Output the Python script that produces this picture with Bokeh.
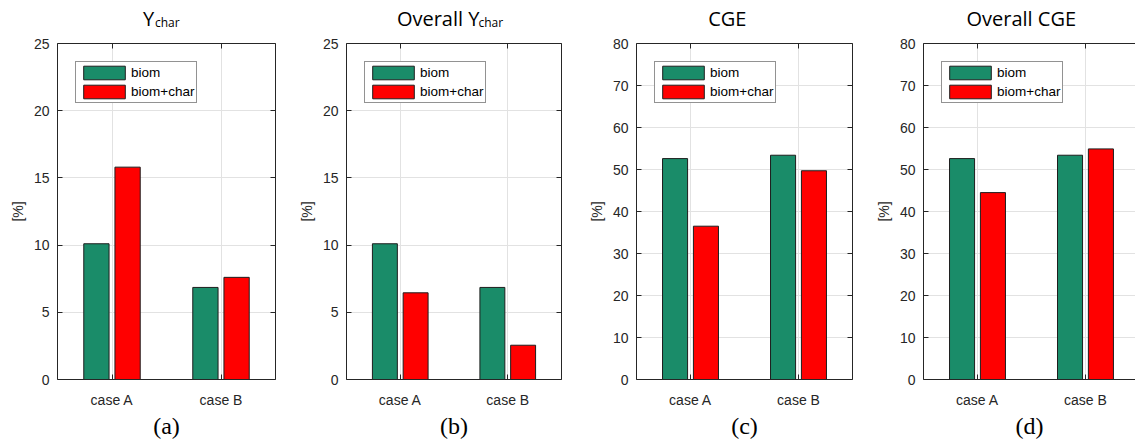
from bokeh.plotting import figure
from bokeh.models import (Range1d, FixedTicker, LinearAxis, Legend, LegendItem,
                          ColumnDataSource)
from bokeh.layouts import row, column
from bokeh.embed import file_html
from bokeh.resources import INLINE
from bokeh.transform import dodge
from bokeh.core.properties import value

# ---------------- data ----------------
categories = ["case A", "case B"]
series = ["biom", "biom+char"]

ychar_biom = [10.1, 6.85]
ychar_biomchar = [15.8, 7.6]

overall_ychar_biom = [10.1, 6.85]
overall_ychar_biomchar = [6.45, 2.55]

cge_biom = [52.6, 53.4]
cge_biomchar = [36.5, 49.7]

overall_cge_biom = [52.6, 53.4]
overall_cge_biomchar = [44.5, 54.9]

y_max = [25, 25, 80, 80]
y_step = [5, 5, 10, 10]
panel_letters = ["(a)", "(b)", "(c)", "(d)"]

# ---------------- style ----------------
AX = "#262626"
GRID = "#e2e2e2"
GREEN = "#1a8c69"
RED = "#ff0000"
EDGE = "#1e1e1e"
BW = 0.232
OFF = 0.143
SANS = "Liberation Sans"
HT = 31          # height of the title strip
H_MAIN = 441 - HT


def make_panel(biom, biomchar, ymax, ystep, width, bl, br, x_end, title_parts,
               letter, right_axis=True):
    xs = list(range(1, len(categories) + 1))
    xmid = (xs[0] + xs[-1]) / 2
    xr = Range1d(0.5, x_end)

    # title strip (text drawn through the shared x scale)
    t = figure(width=width, height=HT, x_range=xr, y_range=Range1d(HT, 0),
               title=None, x_axis_type=None, y_axis_type=None, output_backend="svg",
               toolbar_location=None, min_border_left=bl, min_border_right=br,
               min_border_top=0, min_border_bottom=0, outline_line_color=None,
               background_fill_color="white", border_fill_color="white")
    for text, size, dx, ypos in title_parts:
        t.text(x=[xmid], y=[ypos], text=[text], x_offset=dx,
               text_font=value("Open Sans"), text_font_size=value(size),
               text_color="black", text_align="left", text_baseline="alphabetic")

    p = figure(width=width, height=H_MAIN, x_range=xr, title=None,
               y_range=Range1d(0, ymax), output_backend="svg", toolbar_location=None,
               min_border_left=bl, min_border_right=br, min_border_top=12,
               min_border_bottom=59, outline_line_color=None,
               background_fill_color="white", border_fill_color="white")

    src = ColumnDataSource(dict(x=xs, biom=biom, biomchar=biomchar))
    r1 = p.vbar(x=dodge("x", -OFF), top="biom", width=BW, source=src,
                fill_color=GREEN, line_color=EDGE, line_width=1)
    r2 = p.vbar(x=dodge("x", OFF), top="biomchar", width=BW, source=src,
                fill_color=RED, line_color=EDGE, line_width=1)

    yticks = list(range(0, ymax + 1, ystep))

    xa = p.xaxis[0]
    xa.ticker = FixedTicker(ticks=xs)
    xa.major_label_overrides = {x: c for x, c in zip(xs, categories)}
    xa.axis_label = letter
    xa.axis_label_text_font = "Liberation Serif"
    xa.axis_label_text_font_size = "24px"
    xa.axis_label_text_font_style = "normal"
    xa.axis_label_text_color = "black"
    xa.axis_label_standoff = 2

    ya = p.yaxis[0]
    ya.ticker = FixedTicker(ticks=yticks)
    ya.axis_label = "[%]"
    ya.axis_label_text_font_style = "normal"
    ya.axis_label_text_font = SANS
    ya.axis_label_text_font_size = "14px"
    ya.axis_label_text_color = AX
    ya.axis_label_standoff = 5

    for ax in (xa, ya):
        ax.major_tick_in = 5
        ax.major_tick_out = 0
        ax.minor_tick_line_color = None
        ax.axis_line_color = AX
        ax.major_tick_line_color = AX
        ax.major_label_text_font = SANS
        ax.major_label_text_font_size = "14px"
        ax.major_label_text_color = AX
    xa.major_label_standoff = 12
    ya.major_label_standoff = 8

    p.xgrid.ticker = FixedTicker(ticks=xs)
    p.ygrid.ticker = FixedTicker(ticks=yticks)
    p.xgrid.grid_line_color = GRID
    p.ygrid.grid_line_color = GRID

    # top axis: upper box edge with inward ticks
    top = LinearAxis(ticker=FixedTicker(ticks=xs),
                     major_label_overrides={x: "" for x in xs},
                     major_label_text_color=None, major_label_text_font_size="1px",
                     major_label_standoff=0,
                     major_tick_in=5, major_tick_out=0, minor_tick_line_color=None,
                     axis_line_color=AX, major_tick_line_color=AX)
    p.add_layout(top, "above")
    if right_axis:
        rt = LinearAxis(ticker=FixedTicker(ticks=yticks),
                        major_label_overrides={v: "" for v in yticks},
                        major_label_text_color=None, major_label_text_font_size="1px",
                        major_label_standoff=0,
                        major_tick_in=5, major_tick_out=0, minor_tick_line_color=None,
                        axis_line_color=AX, major_tick_line_color=AX)
        p.add_layout(rt, "right")

    legend = Legend(items=[LegendItem(label=series[0], renderers=[r1]),
                           LegendItem(label=series[1], renderers=[r2])],
                    location="top_left", margin=18, padding=2, spacing=2,
                    glyph_width=52, glyph_height=17, label_height=14,
                    label_standoff=1, label_text_font=SANS,
                    label_text_font_size="13.5px", label_text_color="black",
                    border_line_color=AX, border_line_width=1,
                    background_fill_color="white", background_fill_alpha=1)
    p.add_layout(legend)

    return column(t, p, spacing=0)


pa = make_panel(ychar_biom, ychar_biomchar, y_max[0], y_step[0], 295, 57, 20, 2.5,
                [("Y", "20px", -23.6, 18), ("char", "12px", -11.5, 21.7)],
                panel_letters[0])
pb = make_panel(overall_ychar_biom, overall_ychar_biomchar, y_max[1], y_step[1], 290, 48, 24, 2.5,
                [("Overall Y", "20px", -57.1, 18), ("char", "12px", 24.5, 21.7)],
                panel_letters[1])
pc = make_panel(cge_biom, cge_biomchar, y_max[2], y_step[2], 287, 49, 20, 2.5,
                [("CGE", "20px", -36.3, 18)],
                panel_letters[2])
pd = make_panel(overall_cge_biom, overall_cge_biomchar, y_max[3], y_step[3], 263, 49, 0,
                0.5 + 214 / 109,
                [("Overall CGE", "20px", -65, 18)],
                panel_letters[3], right_axis=False)

layout = row(pa, pb, pc, pd, spacing=0)
open("out.html", "w").write(file_html(layout, INLINE))
